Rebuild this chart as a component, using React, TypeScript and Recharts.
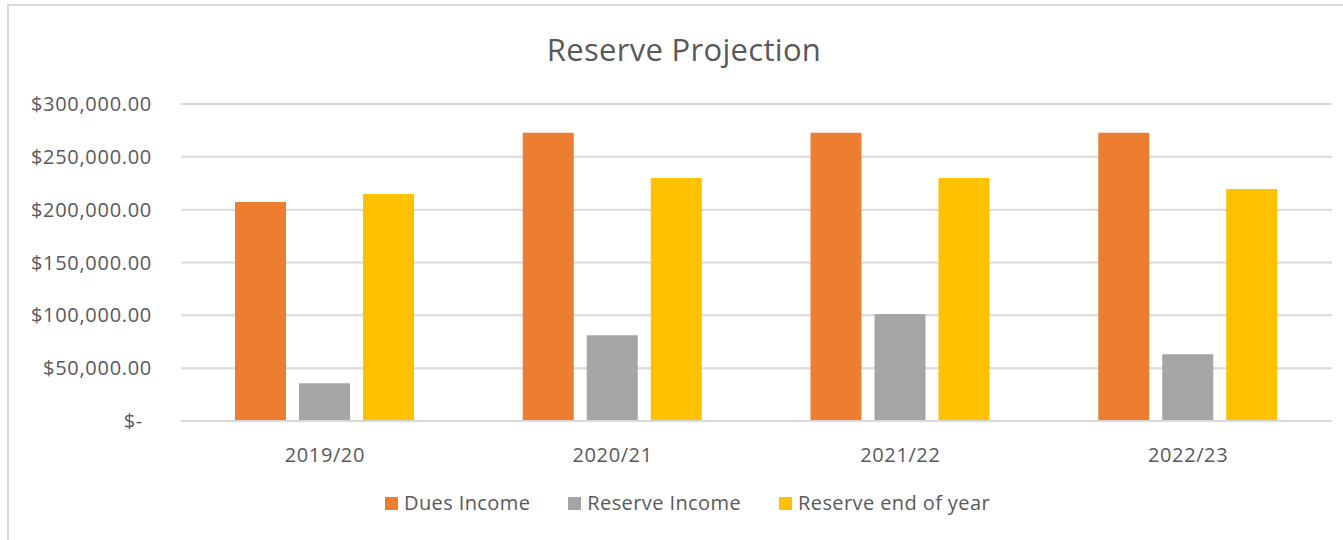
import { BarChart, Bar, XAxis, YAxis, CartesianGrid, Legend } from 'recharts';

const years = ['2019/20', '2020/21', '2021/22', '2022/23'];
const duesIncome = [207250, 272850, 272850, 272850];
const reserveIncome = [35650, 81100, 101250, 63100];
const reserveEndOfYear = [214800, 230000, 230000, 219600];
const yTicks = [0, 50000, 100000, 150000, 200000, 250000, 300000];

const seriesNames = ['Dues Income', 'Reserve Income', 'Reserve end of year'];
const seriesColors = ['#ED7D31', '#A5A5A5', '#FFC000'];

const data = years.map((year, i) => ({
  year,
  dues: duesIncome[i],
  income: reserveIncome[i],
  end: reserveEndOfYear[i],
}));

const FONT = '"Open Sans", sans-serif';
const TEXT = '#595959';

const formatMoney = (v: number) =>
  v === 0
    ? '$-'
    : '$' + v.toLocaleString('en-US', { minimumFractionDigits: 2, maximumFractionDigits: 2 });

const YTick = (props: any) => {
  const { x, y, payload } = props;
  const isZero = payload.value === 0;
  return (
    <text
      x={isZero ? x - 9 : x}
      y={y}
      dy="0.35em"
      textAnchor="end"
      fill={TEXT}
      fontFamily={FONT}
      fontSize={20}
      letterSpacing={0.7}
    >
      {formatMoney(payload.value)}
    </text>
  );
};

const LegendContent = (props: any) => {
  const { payload } = props;
  return (
    <div style={{ display: 'flex', justifyContent: 'center', alignItems: 'center', height: 30 }}>
      {(payload || []).map((item: any, i: number) => (
        <div
          key={item.value}
          style={{ display: 'flex', alignItems: 'center', marginLeft: i === 0 ? 0 : 38 }}
        >
          <span style={{ width: 13, height: 13, background: item.color, display: 'inline-block', marginRight: 6 }} />
          <span style={{ fontFamily: FONT, fontSize: 20, color: TEXT, lineHeight: '30px', letterSpacing: 0.4 }}>
            {item.value}
          </span>
        </div>
      ))}
    </div>
  );
};

export default function App() {
  return (
    <div
      style={{
        position: 'absolute',
        left: 0,
        top: 0,
        width: 1343,
        height: 540,
        overflow: 'hidden',
        background: '#fff',
      }}
    >
      <div
        style={{
          position: 'absolute',
          left: 7,
          top: 4,
          width: 1400,
          height: 600,
          border: '2px solid #d9d9d9',
        }}
      />
      <div
        style={{
          position: 'absolute',
          left: 0,
          top: 29,
          width: 1368,
          textAlign: 'center',
          fontFamily: FONT,
          fontSize: 31,
          color: TEXT,
          lineHeight: '40px',
          letterSpacing: 0.3,
        }}
      >
        Reserve Projection
      </div>
      <div style={{ position: 'absolute', left: 0, top: 0 }}>
        <BarChart
          width={1343}
          height={540}
          data={data}
          margin={{ top: 104, right: 11, left: 11, bottom: 0 }}
          barSize={51}
          barGap={13}
        >
          <CartesianGrid vertical={false} stroke="#d9d9d9" strokeWidth={2} />
          <XAxis
            dataKey="year"
            height={89}
            tickLine={false}
            axisLine={{ stroke: '#d9d9d9', strokeWidth: 2 }}
            tickSize={0}
            tickMargin={27}
            tick={{ fill: TEXT, fontFamily: FONT, fontSize: 20, letterSpacing: 0.6 }}
          />
          <YAxis
            width={170}
            domain={[0, 300000]}
            ticks={yTicks}
            axisLine={false}
            tickLine={false}
            tickSize={0}
            tickMargin={29}
            tick={<YTick />}
          />
          <Legend
            verticalAlign="bottom"
            content={<LegendContent />}
            wrapperStyle={{ position: 'absolute', left: 0, top: 488, width: 1375, height: 30 }}
          />
          <Bar dataKey="dues" name={seriesNames[0]} fill={seriesColors[0]} isAnimationActive={false} />
          <Bar dataKey="income" name={seriesNames[1]} fill={seriesColors[1]} isAnimationActive={false} />
          <Bar dataKey="end" name={seriesNames[2]} fill={seriesColors[2]} isAnimationActive={false} />
        </BarChart>
      </div>
    </div>
  );
}
